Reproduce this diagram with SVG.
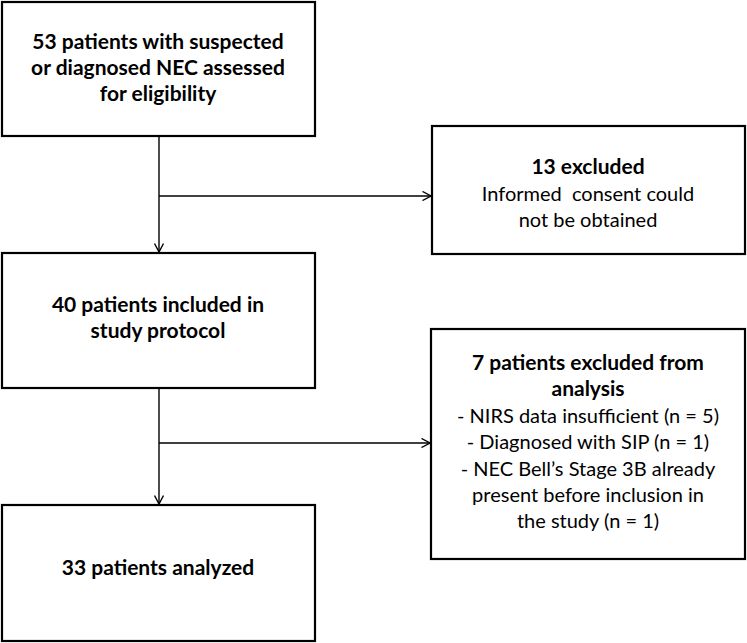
<svg xmlns="http://www.w3.org/2000/svg" width="747" height="643" viewBox="0 0 747 643">
<defs>
<style>
.box{fill:#fff;stroke:#000;stroke-width:2.2}
.t{font-family:Lato,"Liberation Sans",sans-serif;font-size:20px;fill:#000;text-anchor:middle}
.b{font-weight:bold;font-size:21px}
.c{stroke:#000;stroke-width:1.4;fill:none}
</style>
<marker id="ah" viewBox="0 0 10 10" refX="9.5" refY="5" markerWidth="10" markerHeight="10" markerUnits="userSpaceOnUse" orient="auto">
<path d="M1,0.5 L9.5,5 L1,9.5" fill="none" stroke="#000" stroke-width="1.4"/>
</marker>
</defs>
<rect width="747" height="643" fill="#fff"/>
<g id="connectors">
<line class="c" x1="159" y1="137" x2="159" y2="252" marker-end="url(#ah)"/>
<line class="c" x1="159" y1="196" x2="431" y2="196" marker-end="url(#ah)"/>
<line class="c" x1="159" y1="388" x2="159" y2="504" marker-end="url(#ah)"/>
<line class="c" x1="159" y1="443" x2="430" y2="443" marker-end="url(#ah)"/>
</g>
<g id="n1">
<rect class="box" x="2" y="2" width="313" height="134"/>
<text class="t b" x="158" y="49">53 patients with suspected</text>
<text class="t b" x="158" y="75">or diagnosed NEC assessed</text>
<text class="t b" x="158" y="101">for eligibility</text>
</g>
<g id="n2">
<rect class="box" x="432" y="126" width="313" height="128"/>
<text class="t b" x="588" y="174">13 excluded</text>
<text class="t" x="588" y="201" xml:space="preserve">Informed  consent could</text>
<text class="t" x="588" y="227">not be obtained</text>
</g>
<g id="n3">
<rect class="box" x="2" y="253" width="313" height="135"/>
<text class="t b" x="158" y="312">40 patients included in</text>
<text class="t b" x="158" y="338">study protocol</text>
</g>
<g id="n4">
<rect class="box" x="431" y="329" width="314" height="230"/>
<text class="t b" x="588" y="370">7 patients excluded from</text>
<text class="t b" x="588" y="396">analysis</text>
<text class="t" x="588" y="423">- NIRS data insufficient (n = 5)</text>
<text class="t" x="588" y="449">- Diagnosed with SIP (n = 1)</text>
<text class="t" x="588" y="476">- NEC Bell’s Stage 3B already</text>
<text class="t" x="588" y="502">present before inclusion in</text>
<text class="t" x="588" y="528">the study (n = 1)</text>
</g>
<g id="n5">
<rect class="box" x="2" y="505" width="313" height="136"/>
<text class="t b" x="158" y="575">33 patients analyzed</text>
</g>
</svg>
